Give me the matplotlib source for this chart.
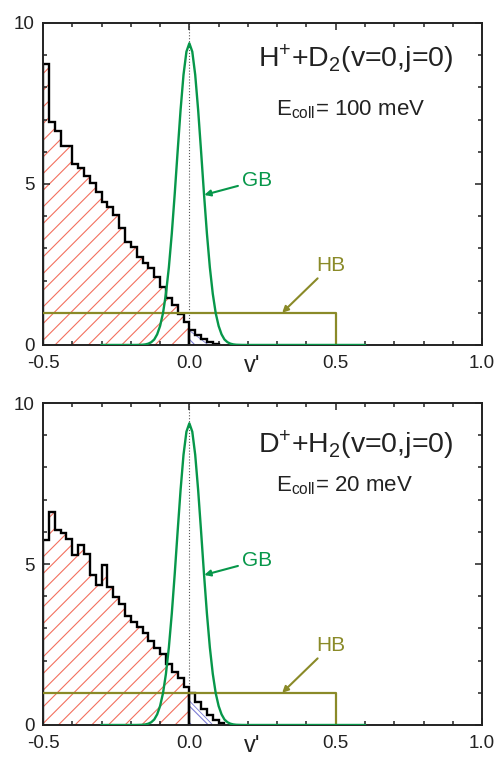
import numpy as np
import matplotlib
matplotlib.use('Agg')
import matplotlib.pyplot as plt
from matplotlib.ticker import MultipleLocator, FixedLocator, FixedFormatter

plt.rcParams['font.family'] = ['Liberation Sans', 'DejaVu Sans']
plt.rcParams['mathtext.fontset'] = 'custom'
plt.rcParams['mathtext.rm'] = 'Liberation Sans'
plt.rcParams['mathtext.it'] = 'Liberation Sans'
plt.rcParams['mathtext.default'] = 'regular'
plt.rcParams['axes.unicode_minus'] = False
plt.rcParams['hatch.linewidth'] = 0.8

# ---------------- data ----------------
bin_start = -0.5
bin_width = 0.02

# H+ + D2, Ecoll = 100 meV : histogram values for v' < 0 and v' > 0
top_neg = [8.73, 6.93, 6.65, 6.19, 6.19, 5.62, 5.49, 5.25, 5.02, 4.75,
           4.45, 4.29, 4.04, 3.62, 3.21, 3.05, 2.74, 2.54, 2.38, 2.10,
           1.80, 1.45, 1.24, 0.95, 0.70]
top_pos = [0.47, 0.31, 0.19, 0.09, 0.03]

# D+ + H2, Ecoll = 20 meV
bot_neg = [5.75, 6.60, 6.05, 5.97, 5.77, 5.28, 5.60, 5.30, 4.66, 4.35,
           4.97, 4.30, 3.96, 3.75, 3.40, 3.20, 3.05, 2.85, 2.60, 2.40,
           2.20, 1.90, 1.65, 1.45, 1.19]
bot_pos = [0.98, 0.72, 0.50, 0.30, 0.15, 0.05]

# Gaussian binning (GB) curve
gb_v = [-0.30, -0.20, -0.18, -0.16, -0.15, -0.14, -0.13, -0.12, -0.11, -0.10,
        -0.09, -0.08, -0.07, -0.06, -0.05, -0.04, -0.03, -0.02, -0.01, 0.00,
        0.01, 0.02, 0.03, 0.04, 0.05, 0.06, 0.07, 0.08, 0.09, 0.10,
        0.11, 0.12, 0.13, 0.14, 0.15, 0.16, 0.18, 0.20, 0.60]
gb_p = [0.0, 0.0, 0.001, 0.007, 0.018, 0.041, 0.087, 0.17, 0.33, 0.59,
        0.99, 1.59, 2.41, 3.46, 4.69, 6.02, 7.30, 8.39, 9.11, 9.37,
        9.11, 8.39, 7.30, 6.02, 4.69, 3.46, 2.41, 1.59, 0.99, 0.59,
        0.33, 0.17, 0.087, 0.041, 0.018, 0.007, 0.001, 0.0, 0.0]

# Histogram binning (HB) box
hb_v = [-0.5, 0.5, 0.5]
hb_p = [1.0, 1.0, 0.0]

# blue hatched part (v' > 0)
top_blue_v = [0.0, 0.065]
top_blue_p = [0.45, 0.0]
bot_blue_v = [0.0, 0.08]
bot_blue_p = [0.75, 0.0]

xticks = [-0.5, 0.0, 0.5, 1.0]
xticklabels = ['-0.5', '0.0', '0.5', '1.0']
yticks = [0, 5, 10]
yticklabels = ['0', '5', '10']

titles = [r'H$^{+}$+D$_{2}$(v=0,j=0)', r'D$^{+}$+H$_{2}$(v=0,j=0)']
ecolls = [r'E$_{coll}$= 100 meV', r'E$_{coll}$= 20 meV']

# ---------------- style ----------------
GREEN = '#07974a'
OLIVE = '#8a8a28'
RED = '#f3705f'
BLUE = '#7c7cd4'

fig = plt.figure(figsize=(4.97, 7.59), dpi=100)
rects = [[0.0865, 0.5455, 0.8835, 0.4242],
         [0.0865, 0.0448, 0.8835, 0.4242]]
panels = [
    (top_neg, top_pos, top_blue_v, top_blue_p, titles[0], ecolls[0], 8.64, 7.14),
    (bot_neg, bot_pos, bot_blue_v, bot_blue_p, titles[1], ecolls[1], 8.44, 7.25),
]

for rect, (neg, pos, bv, bp, title, ecoll, ty, ey) in zip(rects, panels):
    ax = fig.add_axes(rect)
    ax.set_xlim(-0.5, 1.0)
    ax.set_ylim(0, 10)

    e_neg = bin_start + bin_width * np.arange(len(neg) + 1)
    e_pos = bin_width * np.arange(len(pos) + 1)

    # red hatch for v'<0
    ax.stairs(neg, e_neg, fill=True, facecolor='none', edgecolor=RED,
              hatch='//', linewidth=0, zorder=1)
    # blue hatch for v'>0
    ax.fill_between(bv, bp, 0, facecolor='none', edgecolor=BLUE,
                    hatch='\\\\', linewidth=0.6, zorder=1)
    # black histogram outline
    ax.stairs(neg, e_neg, baseline=0, color='black', linewidth=1.7, zorder=2)
    ax.stairs(pos, e_pos, baseline=0, color='black', linewidth=1.7, zorder=2)

    ax.axvline(0, color='#555555', linestyle=':', linewidth=0.8, zorder=1.5)

    ax.plot(hb_v, hb_p, color=OLIVE, linewidth=1.6, zorder=3)
    ax.plot(gb_v, gb_p, color=GREEN, linewidth=1.7, zorder=4)

    ax.annotate('GB', xy=(0.051, 4.66), xytext=(0.18, 5.1), color=GREEN,
                fontsize=15, ha='left', va='center',
                arrowprops=dict(arrowstyle='-|>', color=GREEN, lw=1.5,
                                shrinkA=1, shrinkB=0, mutation_scale=9))
    ax.annotate('HB', xy=(0.317, 1.0), xytext=(0.435, 2.48), color=OLIVE,
                fontsize=15, ha='left', va='center',
                arrowprops=dict(arrowstyle='-|>', color=OLIVE, lw=1.5,
                                shrinkA=1, shrinkB=0, mutation_scale=9))

    ax.text(0.233, ty, title, fontsize=20.5, ha='left', va='baseline',
            color='#222222')
    ax.text(0.295, ey, ecoll, fontsize=16, ha='left', va='baseline',
            color='#222222')

    ax.xaxis.set_major_locator(FixedLocator(xticks))
    ax.xaxis.set_major_formatter(FixedFormatter(xticklabels))
    ax.xaxis.set_minor_locator(MultipleLocator(0.1))
    ax.yaxis.set_major_locator(FixedLocator(yticks))
    ax.yaxis.set_major_formatter(FixedFormatter(yticklabels))
    ax.yaxis.set_minor_locator(MultipleLocator(1))
    ax.tick_params(which='both', direction='in', top=True, right=True,
                   width=1.1, colors='#222222')
    ax.tick_params(which='major', length=5, labelsize=13.5)
    ax.tick_params(axis='x', which='major', pad=7)
    ax.tick_params(axis='y', which='major', pad=6)
    ax.tick_params(which='minor', length=3)
    for sp in ax.spines.values():
        sp.set_linewidth(1.4)
        sp.set_color('#222222')

    ax.set_xlabel("v'", fontsize=17, color='#222222')
    ax.xaxis.set_label_coords(0.476, -0.03)

fig.savefig('out.png', dpi=100)
